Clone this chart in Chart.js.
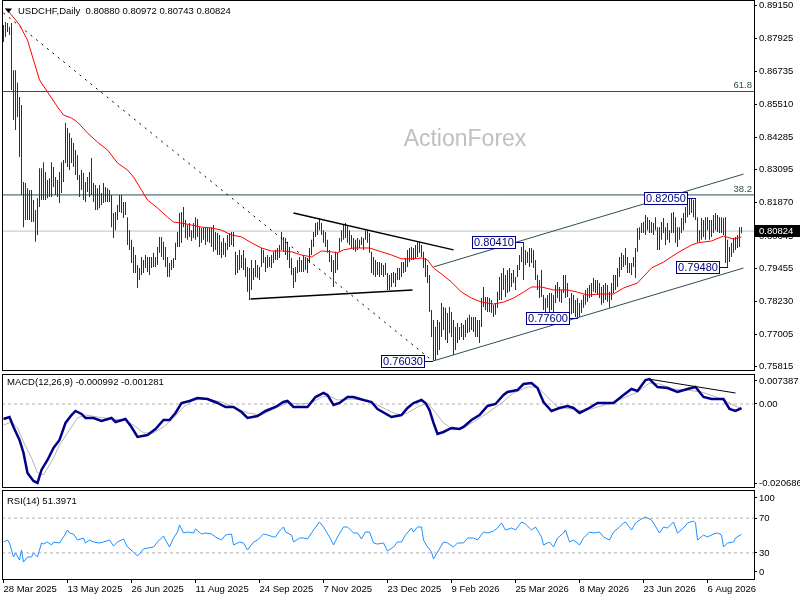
<!DOCTYPE html>
<html>
<head>
<meta charset="utf-8">
<script src="https://cdn.jsdelivr.net/npm/chart.js@4.4.1/dist/chart.umd.min.js"></script>
<style>
  html, body { margin: 0; padding: 0; background: #fff; }
  #wrap { position: relative; width: 800px; height: 600px; overflow: hidden; background: #fff; }
  canvas { position: absolute; left: 0; }
</style>
</head>
<body>
<div id="wrap">
  <canvas id="main" width="800" height="372" style="top:0px"></canvas>
  <canvas id="macd" width="800" height="138" style="top:362px"></canvas>
  <canvas id="rsi" width="800" height="120" style="top:480px"></canvas>
</div>
<script>
// =========================
// DATA (daily bars, index 0 = 28 Mar 2025)
// =========================
const symbol = 'USDCHF,Daily';
const lastOhlc = [0.80880, 0.80972, 0.80743, 0.80824];

const barHigh = [
  .8844,.8855,.8851,.8836,.8851,.8677,.8677,.8630,.8578,.8548,
  .8264,.8260,.8241,.8234,.8234,.8197,.8160,.8204,.8315,.8315,
  .8337,.8301,.8271,.8278,.8337,.8319,.8282,.8271,.8301,.8337,
  .8345,.8482,.8463,.8445,.8426,.8408,.8382,.8363,.8290,.8308,
  .8297,.8264,.8282,.8301,.8352,.8260,.8253,.8241,.8253,.8223,
  .8260,.8245,.8241,.8234,.8216,.8149,.8153,.8179,.8216,.8216,
  .8190,.8190,.8134,.8086,.8050,.8024,.7994,.7957,.7946,.7987,
  .7976,.7994,.7987,.7987,.7987,.8002,.7987,.8024,.8061,.8061,
  .8043,.8024,.7987,.7965,.7976,.7983,.8039,.8079,.8149,.8153,
  .8171,.8123,.8105,.8112,.8086,.8112,.8134,.8127,.8097,.8094,
  .8094,.8094,.8094,.8094,.8097,.8105,.8079,.8075,.8068,.8043,
  .8057,.8039,.8068,.8075,.8079,.8079,.8006,.7994,.8013,.7994,
  .8013,.7983,.7950,.7946,.7976,.7946,.7976,.7957,.7950,.8020,
  .8013,.7987,.7994,.7987,.7994,.8006,.8013,.8020,.8031,.8079,
  .8061,.8057,.8043,.8024,.7983,.7946,.7950,.7976,.7987,.7976,
  .7987,.7987,.7983,.8020,.8050,.8079,.8112,.8116,.8131,.8112,
  .8086,.8079,.8050,.8013,.7994,.7976,.8006,.8002,.8057,.8086,
  .8105,.8112,.8105,.8086,.8068,.8057,.8050,.8057,.8050,.8061,
  .8057,.8086,.8086,.8075,.8006,.7987,.7976,.7968,.7968,.7965,
  .7957,.7965,.7928,.7920,.7928,.7931,.7928,.7946,.7946,.7968,
  .7968,.7983,.8013,.8020,.8024,.8020,.8031,.8043,.8043,.8031,
  .8006,.7983,.7957,.7920,.7791,.7754,.7728,.7754,.7747,.7817,
  .7802,.7799,.7780,.7802,.7784,.7754,.7728,.7743,.7728,.7743,
  .7736,.7754,.7762,.7773,.7765,.7765,.7765,.7754,.7754,.7835,
  .7876,.7839,.7839,.7835,.7828,.7810,.7817,.7858,.7913,.7928,
  .7946,.7920,.7939,.7946,.7928,.7939,.7913,.7957,.7994,.8024,
  .8041,.8013,.8006,.8020,.8020,.8013,.7976,.7920,.7902,.7939,
  .7846,.7835,.7846,.7854,.7854,.7846,.7883,.7894,.7876,.7865,
  .7920,.7920,.7891,.7835,.7854,.7846,.7828,.7835,.7817,.7828,
  .7846,.7865,.7872,.7883,.7891,.7909,.7902,.7902,.7891,.7876,
  .7883,.7891,.7883,.7858,.7891,.7920,.7920,.7946,.7987,.8002,
  .7994,.8020,.7987,.7965,.7965,.7987,.8020,.8094,.8097,.8112,
  .8116,.8142,.8134,.8123,.8116,.8112,.8134,.8097,.8097,.8116,
  .8131,.8097,.8112,.8086,.8149,.8153,.8134,.8097,.8097,.8131,
  .8149,.8171,.8197,.8201,.8201,.8198,.8205,.8134,.8086,.8131,
  .8123,.8134,.8134,.8123,.8123,.8142,.8149,.8142,.8134,.8134,
  .8131,.8134,.8050,.8024,.8039,.8057,.8061,.8068,.8097,.80972
];

const barLow = [
  .8781,.8799,.8818,.8807,.8604,.8493,.8456,.8504,.8356,.8216,
  .8097,.8123,.8123,.8123,.8116,.8116,.8043,.8068,.8171,.8197,
  .8197,.8197,.8204,.8208,.8208,.8245,.8216,.8208,.8186,.8223,
  .8264,.8334,.8319,.8308,.8334,.8319,.8290,.8271,.8208,.8234,
  .8197,.8190,.8227,.8208,.8216,.8190,.8160,.8160,.8167,.8179,
  .8186,.8190,.8190,.8190,.8097,.8057,.8086,.8123,.8153,.8149,
  .8131,.8142,.8031,.8013,.7965,.7928,.7928,.7872,.7902,.7920,
  .7928,.7946,.7931,.7920,.7946,.7950,.7950,.7957,.8002,.7987,
  .7976,.7950,.7913,.7913,.7939,.7946,.7976,.8024,.8024,.8039,
  .8097,.8057,.8050,.8061,.8046,.8057,.8050,.8061,.8024,.8039,
  .8050,.8031,.8043,.8039,.8024,.8006,.8013,.7994,.7994,.7983,
  .7994,.7987,.8013,.8024,.8031,.8024,.7920,.7928,.7939,.7946,
  .7939,.7913,.7858,.7828,.7865,.7902,.7913,.7909,.7902,.7950,
  .7965,.7931,.7946,.7950,.7946,.7965,.7976,.7976,.7983,.8013,
  .8006,.7994,.7976,.7946,.7920,.7872,.7894,.7928,.7931,.7931,
  .7931,.7939,.7928,.7965,.7994,.8024,.8061,.8068,.8086,.8068,
  .8039,.8024,.8002,.7968,.7931,.7876,.7928,.7939,.8006,.8043,
  .8050,.8057,.8039,.8031,.8020,.8013,.8006,.8013,.8020,.8031,
  .8013,.8050,.8039,.8002,.7928,.7920,.7913,.7920,.7913,.7920,
  .7913,.7920,.7865,.7865,.7876,.7891,.7876,.7902,.7902,.7913,
  .7928,.7931,.7950,.7968,.7976,.7976,.7983,.7987,.8002,.7987,
  .7946,.7913,.7891,.7784,.7691,.7603,.7606,.7625,.7643,.7691,
  .7717,.7680,.7669,.7706,.7691,.7625,.7643,.7669,.7680,.7691,
  .7680,.7691,.7706,.7710,.7717,.7710,.7691,.7691,.7669,.7728,
  .7802,.7791,.7784,.7784,.7780,.7765,.7773,.7799,.7828,.7828,
  .7865,.7839,.7854,.7858,.7876,.7891,.7865,.7913,.7939,.7968,
  .7902,.7957,.7965,.7950,.7965,.7946,.7902,.7865,.7835,.7839,
  .7791,.7784,.7799,.7784,.7791,.7784,.7817,.7835,.7821,.7817,
  .7854,.7835,.7839,.7784,.7775,.7780,.7765,.7760,.7765,.7780,
  .7799,.7810,.7821,.7835,.7839,.7858,.7854,.7846,.7835,.7810,
  .7817,.7828,.7821,.7799,.7828,.7854,.7865,.7876,.7913,.7939,
  .7950,.7957,.7928,.7928,.7920,.7950,.7909,.8006,.8050,.8075,
  .8075,.8068,.8086,.8075,.8075,.8068,.8086,.8013,.8013,.8050,
  .8075,.8031,.8050,.8039,.8075,.8075,.8039,.8024,.8050,.8075,
  .8086,.8112,.8134,.8142,.8149,.8134,.8123,.8039,.8043,.8050,
  .8061,.8050,.8086,.8050,.8061,.8075,.8086,.8079,.8075,.8075,
  .8068,.7965,.7948,.7968,.7987,.8002,.8013,.8020,.8024,.80743
];

// 55 day moving average
const maDay = [1,4,8,12,15,18,22,27,30,34, 37,42,47,52,57,62,65,69,72,77,
  82,85,89,94,99,104,109,114,119,124, 129,134,139,144,149,154,159,164,167,170,
  175,180,183,189,194,199,204,209,212,215, 219,224,229,234,239,245,250,255,260,264,
  269,275,282,287,292,298,305,310,317,324, 330,337,344,347,354,360,365,369];
const maVal = [.8906,.8881,.8844,.8788,.8714,.8641,.8596,.8541,.8511,.8500,
  .8485,.8445,.8411,.8382,.8334,.8308,.8282,.8234,.8197,.8168,
  .8134,.8116,.8112,.8105,.8097,.8094,.8086,.8068,.8061,.8039,
  .8020,.8009,.8009,.8006,.7994,.7987,.8009,.8006,.8002,.8013,
  .8020,.8020,.8020,.8006,.7994,.7980,.7980,.7983,.7976,.7946,
  .7924,.7894,.7857,.7835,.7820,.7813,.7820,.7835,.7857,.7876,
  .7876,.7865,.7865,.7857,.7846,.7850,.7850,.7872,.7891,.7946,
  .7968,.8002,.8031,.8039,.8046,.8064,.8053,.8061];

// trend lines: [startDay, endDay] and [startPrice, endPrice]
const trendDays = [[0, 214.5], [145, 225], [123.5, 204.5], [215, 370], [215, 370]];
const trendPrices = [[0.8888, 0.7603], [0.8149, 0.8013], [0.7832, 0.7865], [0.7950, 0.8293], [0.7603, 0.7946]];

const fibLevels = [0.8598, 0.8216];
const fibNames = ['61.8', '38.2'];

const markDays = [215, 260, 287, 346, 362];
const markPrices = [0.7603, 0.8041, 0.7760, 0.8205, 0.7948];

const priceTicks = [0.89150, 0.87925, 0.86735, 0.85510, 0.84285, 0.83095, 0.81870, 0.80645, 0.79455, 0.78230, 0.77005, 0.75815];

// MACD(12,26,9)
const macdReadout = [-0.000992, -0.001281];
const macdDay = [0,3,5,8,10,12,15,17,19,22, 25,28,31,34,36,39,41,45,49,54,
  56,61,64,67,72,76,80,83,86,89, 93,97,102,107,111,115,119,122,127,131,
  136,140,142,145,152,156,160,162,165,168, 172,175,180,184,187,194,199,202,205,209,
  211,213,215,217,220,224,228,230,234,238, 242,246,250,252,257,260,264,267,270,274,
  278,282,285,288,292,297,302,305,310,314, 317,321,323,327,332,337,342,346,350,354,
  360,363,366,369];
const macdVal = [-.00369,-.00320,-.00566,-.00886,-.01205,-.01697,-.01894,-.01943,-.01624,-.01378,
  -.01082,-.00886,-.00467,-.00271,-.00172,-.00246,-.00344,-.00344,-.00418,-.00344,
  -.00443,-.00369,-.00566,-.00812,-.00763,-.00615,-.00394,-.00394,-.00221,.00025,
  .00074,.00148,.00123,.00025,-.00074,-.00074,-.00197,-.00344,-.00295,-.00172,
  -.00074,.00049,.00074,-.00074,-.00074,.00172,.00271,.00221,-.00025,.00025,
  .00172,.00172,.00098,.00049,-.00123,-.00320,-.00271,-.00098,.00025,.00098,
  .00025,-.00148,-.00467,-.00738,-.00689,-.00590,-.00615,-.00566,-.00394,-.00271,
  -.00049,0,.00221,.00295,.00344,.00492,.00517,.00394,.00049,-.00172,
  -.00098,-.00049,-.00098,-.00221,-.00123,.00025,.00025,.00025,.00221,.00369,
  .00320,.00590,.00615,.00418,.00394,.00295,.00369,.00418,.00172,.00123,
  .00123,-.00123,-.00172,-.00099];
const sigDay = [0,4,7,10,14,17,20,25,28,33, 37,41,47,54,60,65,70,75,80,85,
  90,95,102,109,115,122,129,135,142,149, 154,159,163,167,174,180,187,194,198,202,
  207,212,215,220,225,230,235,242,249,255, 262,267,272,277,284,290,297,304,310,317,
  323,328,335,342,349,355,362,367,369];
const sigVal = [-.00517,-.00443,-.00590,-.00935,-.01328,-.01697,-.01747,-.01328,-.01009,-.00640,
  -.00344,-.00271,-.00320,-.00369,-.00394,-.00517,-.00713,-.00713,-.00566,-.00344,
  -.00074,.00098,.00123,.00049,-.00074,-.00221,-.00271,-.00123,.00025,0,
  .00025,.00172,.00197,.00098,.00123,.00098,-.00025,-.00197,-.00271,-.00221,
  -.00074,.00025,-.00148,-.00467,-.00640,-.00590,-.00443,-.00221,.00025,.00271,
  .00418,.00418,.00172,-.00074,-.00123,-.00172,-.00074,.00025,.00148,.00295,
  .00517,.00492,.00369,.00344,.00295,.00197,.00049,-.00074,-.00128];
const macdTrendDays = [322.5, 366];
const macdTrendVals = [0.00615, 0.00271];
const macdRange = [-0.020686, 0.007387];
const macdTickText = ['0.007387', '0.00', '-0.020686'];

// RSI(14)
const rsiReadout = 51.3971;
const rsiDay = [0,2,3,5,6,8,9,10,12,14, 15,17,19,20,22,24,25,28,30,32,
  33,35,37,40,41,43,45,48,50,53, 55,57,60,62,65,67,70,72,75,77,
  80,81,83,85,87,88,90,92,95,96, 99,101,104,106,109,111,114,115,118,120,
  122,125,127,130,132,135,136,138,140,141, 144,145,148,150,152,155,158,160,163,165,
  167,170,172,175,177,179,181,183,185,187, 190,192,195,197,199,201,204,205,207,209,
  210,212,214,215,217,220,222,225,227,230, 232,235,237,240,242,245,247,249,251,254,
  256,259,261,264,266,269,270,273,275,277, 280,281,283,285,288,290,293,295,298,300,
  303,305,308,310,311,314,316,319,321,324, 325,328,330,332,335,337,340,342,345,346,
  347,350,352,355,357,359,360,362,365,366, 369];
const rsiVal = [42.5,44.8,41.4,25.3,29.9,21.8,33.3,19.5,25.3,25.3, 29.9,25.3,41.4,40.2,42.5,39.1,42.5,41.4,48.3,56.3,
  52.9,51.7,44.8,47.1,41.4,44.8,42.5,41.4,42.5,44.8, 37.9,42.5,46.0,36.8,31.0,26.4,34.5,35.6,36.8,42.5,
  49.4,44.8,36.8,47.1,54.0,62.1,52.9,54.0,52.9,57.5, 51.7,52.9,51.7,48.3,44.8,50.6,51.7,39.1,42.5,41.4,
  33.3,42.5,44.8,51.7,50.6,48.3,48.3,55.2,59.8,54.0, 50.6,42.5,47.1,47.1,46.0,56.3,65.5,59.8,48.3,39.1,
  48.3,59.8,59.8,52.9,52.9,46.0,54.0,54.0,41.4,40.2, 41.4,32.2,36.8,42.5,42.5,50.6,58.6,54.0,59.8,59.8,
  44.8,36.8,31.0,23.0,31.0,42.5,41.4,36.8,41.4,41.4, 47.1,47.1,44.8,54.0,52.9,55.2,58.6,64.4,56.3,58.6,
  56.3,65.5,63.2,56.3,59.8,48.3,39.1,42.5,36.8,47.1, 52.9,56.3,42.5,44.8,39.1,47.1,54.0,52.9,54.0,48.3,
  44.8,54.0,59.8,64.4,65.5,56.3,64.4,69.0,71.3,67.8, 64.4,52.9,59.8,58.6,65.5,52.9,58.6,64.4,66.7,64.4,
  44.8,50.6,48.3,51.7,52.9,50.6,36.8,41.4,42.5,47.1, 51.4];
const rsiLevels = [70, 30];
const rsiTickText = ['100', '70', '30', '0'];

const dateDays = [0,32,64,96,128,160,192,224,256,288,320,352];
const dateLabels = ['28 Mar 2025','13 May 2025','26 Jun 2025','11 Aug 2025','24 Sep 2025','7 Nov 2025',
  '23 Dec 2025','9 Feb 2026','25 Mar 2026','8 May 2026','23 Jun 2026','6 Aug 2026'];

// =========================
// SHARED HELPERS
// =========================
const FONT = '"Liberation Sans", Arial, sans-serif';
Chart.defaults.font.family = FONT;
Chart.defaults.font.size = 9.5;
Chart.defaults.color = '#000';

const xMin = -0.75, xMax = 375.25;
const fullSpan = [xMin, xMax];

function pairs(days, vals) {
  return days.map((d, k) => ({ x: d, y: vals[k] }));
}

function lineSet(color, width, dash, order, data) {
  return {
    type: 'line', data, borderColor: color, borderWidth: width, borderDash: dash || [],
    pointRadius: 0, tension: 0, fill: false, spanGaps: true, order
  };
}

function hiddenX() {
  return { type: 'linear', min: xMin, max: xMax, offset: false, display: false };
}

function rightAxis(min, max, buildTicks, labelFn) {
  return {
    position: 'right', min, max,
    afterBuildTicks: s => { s.ticks = buildTicks(s).map(v => ({ value: v })); },
    afterFit: s => { s.width = 46; s.paddingTop = 0; s.paddingBottom = 0; },
    ticks: { autoSkip: false, padding: 2, color: '#000', callback: labelFn },
    grid: { drawOnChartArea: false, drawTicks: true, tickLength: 3, color: '#000' },
    border: { display: false }
  };
}

// label inset a few pixels from the panel edge, like the terminal does
function edgeInset(s) {
  return 7 * (s.max - s.min) / s.height;
}

const panelFrame = {
  id: 'panelFrame',
  afterDraw(chart) {
    const { ctx, chartArea: a } = chart;
    ctx.save();
    ctx.strokeStyle = '#000';
    ctx.lineWidth = 1;
    ctx.strokeRect(a.left + 0.5, a.top + 0.5, a.right - a.left, a.bottom - a.top - 1);
    ctx.restore();
  }
};

function panelTitle(text, x, dy) {
  return {
    id: 'panelTitle',
    afterDraw(chart) {
      const { ctx, chartArea: a } = chart;
      ctx.save();
      ctx.font = '9.5px ' + FONT;
      ctx.fillStyle = '#000';
      ctx.textBaseline = 'middle';
      ctx.fillText(text, x, a.top + dy);
      ctx.restore();
    }
  };
}

const baseOptions = {
  responsive: false,
  animation: false,
  devicePixelRatio: 1,
  events: [],
  plugins: { legend: { display: false }, tooltip: { enabled: false } }
};

// =========================
// MAIN PRICE PANEL
// =========================
const lastClose = lastOhlc[3];

const mainDecor = {
  id: 'mainDecor',
  beforeDatasetsDraw(chart) {
    const { ctx } = chart;
    ctx.save();
    ctx.fillStyle = '#c0c0c0';
    ctx.font = '23px ' + FONT;
    ctx.textAlign = 'center';
    ctx.textBaseline = 'middle';
    ctx.fillText('ActionForex', 465, 140);
    ctx.restore();
  },
  afterDraw(chart) {
    const { ctx, chartArea: a, scales: { x, y } } = chart;
    ctx.save();

    // fib labels
    ctx.font = '9.5px ' + FONT;
    ctx.fillStyle = '#2f4f4f';
    ctx.textAlign = 'right';
    ctx.textBaseline = 'bottom';
    fibLevels.forEach((v, k) => {
      ctx.fillText(fibNames[k], a.right - 2, y.getPixelForValue(v) - 1);
    });

    // swing high / low tags
    ctx.font = '11px ' + FONT;
    ctx.textBaseline = 'middle';
    ctx.textAlign = 'center';
    markDays.forEach((d, k) => {
      const px = Math.round(x.getPixelForValue(d));
      const py = Math.round(y.getPixelForValue(markPrices[k]));
      const txt = markPrices[k].toFixed(5);
      const w = Math.round(ctx.measureText(txt).width) + 3;
      const h = 12;
      const right = px - 9;
      ctx.fillStyle = '#fff';
      ctx.fillRect(right - w, py - h / 2, w, h);
      ctx.strokeStyle = '#000080';
      ctx.lineWidth = 1;
      ctx.strokeRect(right - w + 0.5, py - h / 2 + 0.5, w, h);
      ctx.beginPath();
      ctx.moveTo(right, py + 0.5);
      ctx.lineTo(px, py + 0.5);
      ctx.stroke();
      ctx.fillStyle = '#000080';
      ctx.fillText(txt, right - w / 2 + 0.5, py + 1);
    });

    // symbol line
    ctx.fillStyle = '#000';
    ctx.beginPath();
    ctx.moveTo(5, 8.5); ctx.lineTo(12, 8.5); ctx.lineTo(8.5, 13);
    ctx.closePath();
    ctx.fill();
    ctx.font = '9.5px ' + FONT;
    ctx.textAlign = 'left';
    ctx.fillText(symbol + '  ' + lastOhlc.map(v => v.toFixed(5)).join(' '), 18, 11);

    // last price tag on the axis
    const ly = Math.round(y.getPixelForValue(lastClose));
    ctx.fillStyle = '#000';
    ctx.fillRect(a.right + 1, ly - 6, 800 - a.right - 1, 12);
    ctx.fillStyle = '#fff';
    ctx.fillText(lastClose.toFixed(5), a.right + 5, ly + 0.5);
    ctx.restore();
  }
};

new Chart(document.getElementById('main'), {
  type: 'bar',
  data: {
    datasets: [
      lineSet('#ff0000', 1, null, 1, pairs(maDay, maVal)),
      lineSet('#000000', 1, [2, 5], 2, pairs(trendDays[0], trendPrices[0])),
      lineSet('#000000', 1.5, null, 2, pairs(trendDays[1], trendPrices[1])),
      lineSet('#000000', 1.5, null, 2, pairs(trendDays[2], trendPrices[2])),
      lineSet('#2f4f4f', 1, null, 2, pairs(trendDays[3], trendPrices[3])),
      lineSet('#2f4f4f', 1, null, 2, pairs(trendDays[4], trendPrices[4])),
      {
        type: 'bar',
        data: barHigh.map((h, i) => ({ x: i, y: [barLow[i], h] })),
        backgroundColor: '#0e3a55',
        barThickness: 1,
        borderWidth: 0,
        inflateAmount: 0,
        order: 3
      },
      lineSet('#2f4f4f', 1, null, 4, pairs(fullSpan, [fibLevels[0], fibLevels[0]])),
      lineSet('#2f4f4f', 1, null, 4, pairs(fullSpan, [fibLevels[1], fibLevels[1]])),
      lineSet('#c0c0c0', 1, null, 4, pairs(fullSpan, [lastClose, lastClose]))
    ]
  },
  options: {
    ...baseOptions,
    layout: { padding: { left: 2, right: 0, top: 0, bottom: 1 } },
    scales: {
      x: hiddenX(),
      y: rightAxis(0.75656, 0.89361, () => priceTicks, v => v.toFixed(5))
    }
  },
  plugins: [mainDecor, panelFrame]
});

// =========================
// MACD PANEL
// =========================
new Chart(document.getElementById('macd'), {
  type: 'line',
  data: {
    datasets: [
      lineSet('#000000', 1, null, 1, pairs(macdTrendDays, macdTrendVals)),
      lineSet('#00008b', 2.5, null, 2, pairs(macdDay, macdVal)),
      lineSet('#b4b4b4', 1, null, 3, pairs(sigDay, sigVal)),
      lineSet('#b0b0b0', 1, [3, 3], 4, pairs(fullSpan, [0, 0]))
    ]
  },
  options: {
    ...baseOptions,
    layout: { padding: { left: 2, right: 0, top: 12, bottom: 12 } },
    scales: {
      x: hiddenX(),
      y: rightAxis(macdRange[0], macdRange[1],
        s => [s.max - edgeInset(s), 0, s.min + edgeInset(s) * 0.7],
        (v, i) => macdTickText[i])
    }
  },
  plugins: [panelFrame,
    panelTitle('MACD(12,26,9) ' + macdReadout.map(v => v.toFixed(6)).join(' '), 7, 8)]
});

// =========================
// RSI PANEL + DATE AXIS
// =========================
new Chart(document.getElementById('rsi'), {
  type: 'line',
  data: {
    datasets: [
      lineSet('#1e90ff', 1, null, 1, pairs(rsiDay, rsiVal)),
      lineSet('#b0b0b0', 1, [3, 3], 2, pairs(fullSpan, [rsiLevels[0], rsiLevels[0]])),
      lineSet('#b0b0b0', 1, [3, 3], 2, pairs(fullSpan, [rsiLevels[1], rsiLevels[1]]))
    ]
  },
  options: {
    ...baseOptions,
    layout: { padding: { left: 2, right: 0, top: 10, bottom: 0 } },
    scales: {
      x: {
        type: 'linear', min: xMin, max: xMax, offset: false,
        afterBuildTicks: s => { s.ticks = dateDays.map(v => ({ value: v })); },
        afterFit: s => { s.height = 20; s.paddingLeft = 0; s.paddingRight = 0; },
        ticks: { autoSkip: false, maxRotation: 0, minRotation: 0, align: 'start', padding: 1,
                 color: '#000', callback: (v, i) => dateLabels[i] },
        grid: { drawOnChartArea: false, drawTicks: true, tickLength: 3, color: '#000' },
        border: { display: false }
      },
      y: rightAxis(-1.15, 102.3,
        s => [100 - edgeInset(s) * 0.85, rsiLevels[0], rsiLevels[1], edgeInset(s)],
        (v, i) => rsiTickText[i])
    }
  },
  plugins: [panelFrame, panelTitle('RSI(14) ' + rsiReadout.toFixed(4), 7, 11)]
});
</script>
</body>
</html>
